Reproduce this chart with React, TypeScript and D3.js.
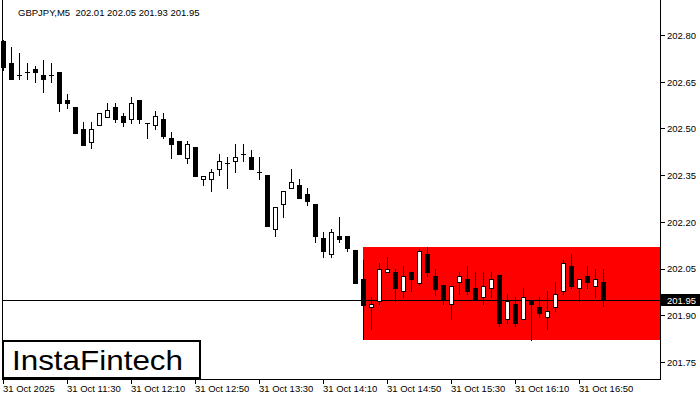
import React from "react";
import * as d3 from "d3";

const symbolText = "GBPJPY,M5  202.01 202.05 201.93 201.95";
const priceTicks = [202.8, 202.65, 202.5, 202.35, 202.2, 202.05, 201.9, 201.75];
const timeLabels = ["31 Oct 2025", "31 Oct 11:30", "31 Oct 12:10", "31 Oct 12:50", "31 Oct 13:30", "31 Oct 14:10", "31 Oct 14:50", "31 Oct 15:30", "31 Oct 16:10", "31 Oct 16:50"];
const timeLabelIndex = [0, 8, 16, 24, 32, 40, 48, 56, 64, 72];

const opens = [202.782, 202.712, 202.673, 202.683, 202.692, 202.673, 202.673, 202.683, 202.593, 202.570, 202.500, 202.458, 202.513, 202.538, 202.570, 202.542, 202.532, 202.593, 202.519, 202.513, 202.532, 202.471, 202.461, 202.407, 202.442, 202.339, 202.339, 202.371, 202.391, 202.397, 202.419, 202.410, 202.362, 202.352, 202.179, 202.259, 202.310, 202.320, 202.291, 202.259, 202.150, 202.098, 202.156, 202.156, 202.111, 202.018, 201.928, 201.947, 202.041, 202.041, 201.980, 202.041, 202.005, 202.098, 202.028, 201.999, 201.938, 202.008, 202.018, 201.989, 201.960, 201.989, 202.031, 201.890, 201.938, 201.890, 201.947, 201.928, 201.896, 201.928, 201.980, 202.060, 201.989, 202.028, 201.996, 202.01];
const highs = [202.786, 202.763, 202.744, 202.712, 202.702, 202.721, 202.712, 202.683, 202.612, 202.570, 202.522, 202.522, 202.551, 202.583, 202.583, 202.551, 202.603, 202.593, 202.519, 202.558, 202.551, 202.490, 202.461, 202.461, 202.442, 202.349, 202.371, 202.419, 202.410, 202.452, 202.452, 202.432, 202.410, 202.352, 202.249, 202.301, 202.371, 202.339, 202.310, 202.259, 202.169, 202.179, 202.217, 202.156, 202.111, 202.079, 201.960, 202.069, 202.089, 202.050, 202.060, 202.041, 202.114, 202.121, 202.050, 201.999, 201.996, 202.041, 202.060, 202.041, 202.041, 202.041, 202.031, 201.970, 201.960, 201.989, 201.947, 201.960, 201.980, 202.008, 202.079, 202.098, 202.018, 202.060, 202.050, 202.05];
const lows = [202.689, 202.660, 202.660, 202.660, 202.651, 202.619, 202.651, 202.558, 202.567, 202.487, 202.448, 202.439, 202.513, 202.538, 202.522, 202.509, 202.519, 202.519, 202.471, 202.500, 202.471, 202.407, 202.419, 202.391, 202.349, 202.320, 202.301, 202.352, 202.310, 202.362, 202.397, 202.371, 202.339, 202.188, 202.156, 202.217, 202.310, 202.278, 202.256, 202.137, 202.089, 202.089, 202.137, 202.108, 202.005, 201.825, 201.857, 201.938, 202.041, 201.947, 201.960, 201.980, 201.999, 202.028, 201.967, 201.938, 201.890, 201.970, 201.970, 201.951, 201.938, 201.960, 201.867, 201.877, 201.867, 201.890, 201.822, 201.896, 201.857, 201.915, 201.970, 201.989, 201.947, 201.989, 201.960, 201.93];
const closes = [202.699, 202.660, 202.673, 202.683, 202.683, 202.660, 202.673, 202.583, 202.583, 202.487, 202.448, 202.500, 202.551, 202.561, 202.532, 202.522, 202.583, 202.532, 202.519, 202.542, 202.477, 202.452, 202.419, 202.452, 202.349, 202.349, 202.362, 202.397, 202.391, 202.410, 202.419, 202.371, 202.362, 202.188, 202.249, 202.301, 202.330, 202.278, 202.269, 202.156, 202.108, 202.169, 202.147, 202.118, 202.005, 201.935, 201.938, 202.050, 202.050, 201.989, 202.028, 202.018, 202.108, 202.041, 201.986, 201.951, 201.996, 202.028, 201.980, 201.951, 201.996, 202.018, 201.877, 201.947, 201.877, 201.960, 201.938, 201.909, 201.915, 201.970, 202.069, 201.996, 202.018, 202.008, 202.018, 201.95];

const currentPrice = 201.95;
const zoneStartIndex = 45;
const zoneTop = 202.121;
const zoneBottom = 201.822;

export default function App() {
  const W = 700, H = 400;
  const frameLeft = 2, frameRight = 660, frameBottom = 379;
  const x = d3.scaleLinear().domain([0, 75]).range([3.5, 603.5]);
  const y = d3.scaleLinear().domain([201.75, 202.8]).range([362.5, 35.5]);
  const font = "'Liberation Sans', Arial, sans-serif";
  const yc = (p: number) => Math.round(y(p) - 0.5) + 0.5;

  return (
    <div style={{ position: "fixed", left: 0, top: 0 }}>
      <svg width={W} height={H} style={{ display: "block", background: "#fff" }}>
        <rect x={0} y={0} width={W} height={H} fill="#fff" />
        {/* red zone */}
        <rect x={Math.round(x(zoneStartIndex))} y={Math.round(y(zoneTop))} width={frameRight - Math.round(x(zoneStartIndex))} height={Math.round(y(zoneBottom)) - Math.round(y(zoneTop))} fill="#ff0000" />
        {/* current price line */}
        <line x1={frameLeft} x2={frameRight} y1={yc(currentPrice)} y2={yc(currentPrice)} stroke="#000" strokeWidth={1} />
        {/* candles */}
        {opens.map((o, i) => {
          const c = closes[i], h = highs[i], l = lows[i];
          const cx = x(i);
          const up = c > o;
          const top = Math.round(y(Math.max(o, c)));
          const bot = Math.round(y(Math.min(o, c)));
          return (
            <g key={i}>
              <line x1={cx} x2={cx} y1={Math.round(y(h))} y2={Math.round(y(l)) + 1} stroke="#000" strokeWidth={1} />
              {up ? (
                <rect x={cx - 2} y={top + 0.5} width={4} height={Math.max(bot - top, 1)} fill="#fff" stroke="#000" strokeWidth={1} />
              ) : bot - top <= 1 ? (
                <line x1={cx - 2.5} x2={cx + 2.5} y1={top + 0.5} y2={top + 0.5} stroke="#000" strokeWidth={1} />
              ) : (
                <rect x={cx - 2.5} y={top} width={5} height={bot - top + 1} fill="#000" />
              )}
            </g>
          );
        })}
        {/* frame */}
        <line x1={frameLeft + 0.5} x2={frameLeft + 0.5} y1={0} y2={frameBottom} stroke="#000" />
        <line x1={frameRight + 0.5} x2={frameRight + 0.5} y1={0} y2={frameBottom + 1} stroke="#000" />
        <line x1={frameLeft} x2={frameRight + 1} y1={frameBottom + 0.5} y2={frameBottom + 0.5} stroke="#000" />
        {/* price axis */}
        {priceTicks.map((p) => (
          <g key={p}>
            <line x1={frameRight + 1} x2={frameRight + 5} y1={yc(p)} y2={yc(p)} stroke="#000" />
            <text x={667} y={y(p)} dy="0.35em" fontFamily={font} fontSize={9.5} fill="#000">{p.toFixed(2)}</text>
          </g>
        ))}
        <rect x={frameRight + 1} y={Math.round(y(currentPrice)) - 6} width={W - frameRight - 1} height={12} fill="#000" />
        <text x={667} y={y(currentPrice)} dy="0.35em" fontFamily={font} fontSize={9.5} fill="#fff">{currentPrice.toFixed(2)}</text>
        {/* time axis */}
        {timeLabels.map((t, i) => {
          const tx = x(timeLabelIndex[i]);
          return (
            <g key={t}>
              <line x1={tx} x2={tx} y1={frameBottom + 1} y2={frameBottom + 5} stroke="#000" />
              <text x={tx - 0.5} y={392} fontFamily={font} fontSize={9.5} fill="#000">{t}</text>
            </g>
          );
        })}
        {/* title */}
        <text x={18} y={16} fontFamily={font} fontSize={9.5} fill="#000" style={{ whiteSpace: "pre" }}>{symbolText}</text>
        {/* logo */}
        <rect x={3} y={341} width={197} height={37} fill="#fff" stroke="#000" strokeWidth={2} />
        <text x={12} y={370} fontFamily={font} fontSize={28} fill="#000" textLength={171} lengthAdjust="spacingAndGlyphs">InstaFintech</text>
      </svg>
    </div>
  );
}
